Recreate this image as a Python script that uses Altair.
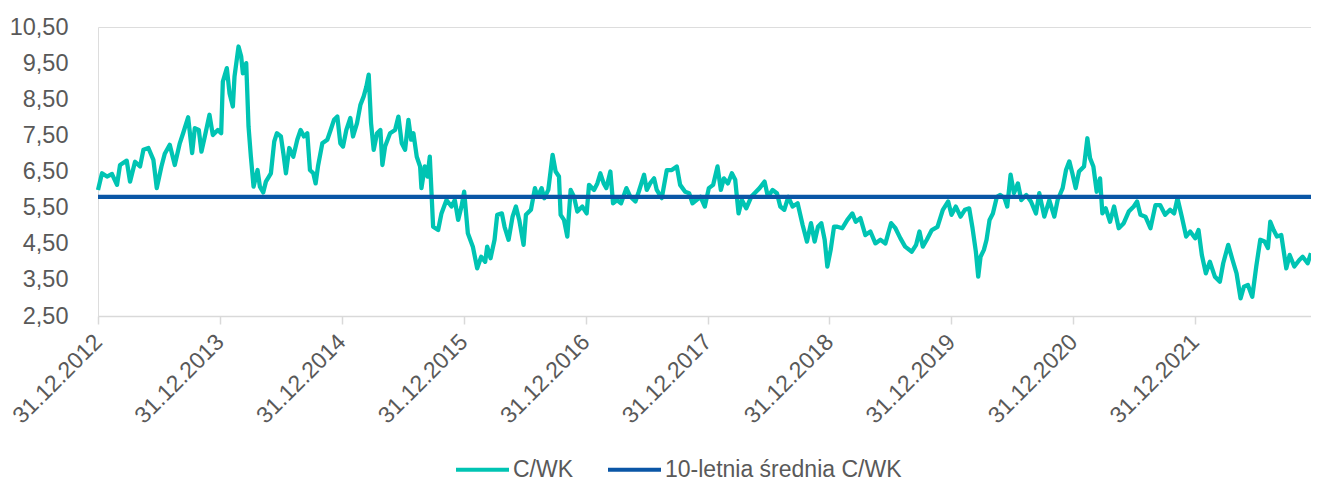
import altair as alt
import pandas as pd

# ---------------- data ----------------
START_DATE = "2012-12-31"          # first observation
AVG_CWK = 5.80                      # 10-year average P/BV
SERIES = ["C/WK", "10-letnia średnia C/WK"]
COLORS = ["#00c4b3", "#0a56a6"]
TICK_YEARS = [2012, 2013, 2014, 2015, 2016, 2017, 2018, 2019, 2020, 2021]
Y_TICKS = [2.5, 3.5, 4.5, 5.5, 6.5, 7.5, 8.5, 9.5, 10.5]

# days since 31.12.2012 and C/WK values, in four stretches
days_a = [0, 12, 27, 42, 57, 66, 86, 96, 111, 126, 136, 151, 166, 176, 190, 200, 215, 230, 245, 255,
          270, 282, 290, 302, 310, 320, 334, 344, 359, 369, 374, 386, 394, 404, 409, 421, 429, 434, 444, 451,
          458, 466, 478, 485, 495, 503, 518, 528, 536, 548, 556, 563, 573, 585, 597, 607, 617, 627, 635, 645,
          652, 659, 672, 687, 697, 707, 717, 726, 734, 744, 756, 764, 776, 786, 796, 804, 811, 818, 826, 836,
          846, 852, 860, 875, 890, 900, 910]
cwk_a = [5.99, 6.45, 6.36, 6.43, 6.13, 6.68, 6.80, 6.22, 6.77, 6.64, 7.10, 7.15, 6.82, 6.04, 6.64, 6.99, 7.24, 6.68, 7.28, 7.56,
         8.00, 7.01, 7.70, 7.65, 7.05, 7.47, 8.07, 7.51, 7.65, 7.56, 8.99, 9.36, 8.67, 8.30, 9.13, 9.96, 9.68, 9.22, 9.50, 7.74,
         6.91, 6.08, 6.54, 6.08, 5.92, 6.22, 6.45, 7.33, 7.56, 7.47, 6.96, 6.45, 7.15, 6.91, 7.38, 7.65, 7.47, 7.56, 6.54, 6.45,
         6.17, 6.64, 7.28, 7.38, 7.65, 7.93, 8.02, 7.28, 7.19, 7.65, 7.98, 7.47, 7.84, 8.34, 8.58, 8.85, 9.18, 7.84, 7.10, 7.56,
         7.65, 6.68, 7.19, 7.56, 7.65, 8.02, 7.28]

days_b = [920, 930, 938, 945, 955, 965, 969, 979, 987, 994, 1004, 1019, 1029, 1044, 1059, 1069, 1079, 1089, 1097, 1108,
          1123, 1136, 1148, 1160, 1166, 1176, 1188, 1196, 1210, 1218, 1230, 1242, 1252, 1262, 1275, 1282, 1297, 1309, 1317, 1329,
          1337, 1349, 1362, 1371, 1381, 1386, 1396, 1406, 1416, 1426, 1436, 1451, 1464, 1471, 1486, 1496, 1505, 1515, 1523, 1535,
          1543, 1555, 1567, 1583, 1595, 1610, 1620, 1636, 1644, 1654, 1666, 1674, 1689, 1704, 1719, 1734, 1744, 1759, 1771, 1781,
          1793, 1805, 1818]
cwk_b = [7.10, 7.93, 7.38, 7.56, 6.91, 6.64, 6.04, 6.64, 6.36, 6.91, 4.97, 4.88, 5.34, 5.71, 5.53, 5.71, 5.16, 5.53, 5.94, 4.79,
         4.42, 3.82, 4.14, 4.00, 4.42, 4.10, 4.61, 5.30, 5.34, 4.97, 4.61, 5.25, 5.53, 5.16, 4.47, 5.30, 5.44, 6.04, 5.80, 6.04,
         5.76, 5.99, 6.96, 6.50, 6.36, 5.30, 5.16, 4.70, 5.99, 5.80, 5.39, 5.53, 5.34, 6.13, 5.99, 6.17, 6.45, 6.17, 6.04, 6.50,
         5.62, 5.71, 5.62, 6.04, 5.80, 5.67, 5.94, 6.41, 5.99, 6.17, 6.31, 5.99, 5.76, 6.54, 6.54, 6.64, 6.13, 5.94, 5.90, 5.62,
         5.71, 5.80, 5.53]

days_c = [1830, 1843, 1856, 1866, 1875, 1887, 1899, 1909, 1919, 1929, 1942, 1957, 1967, 1982, 1997, 2007, 2021, 2034, 2044, 2056,
          2068, 2081, 2096, 2111, 2124, 2136, 2147, 2157, 2167, 2177, 2185, 2195, 2205, 2215, 2230, 2245, 2260, 2270, 2284, 2299,
          2314, 2329, 2344, 2359, 2376, 2389, 2404, 2418, 2438, 2451, 2461, 2471, 2483, 2498, 2515, 2531, 2547, 2557, 2570, 2584,
          2597, 2610, 2620, 2630, 2637, 2644, 2654, 2662, 2671, 2681, 2693, 2703, 2716]
cwk_c = [6.04, 6.13, 6.64, 5.99, 6.31, 6.17, 6.45, 6.27, 5.34, 5.71, 5.48, 5.80, 5.90, 6.04, 6.22, 5.80, 5.99, 5.90, 5.53, 5.44,
         5.80, 5.53, 5.62, 5.02, 4.56, 5.07, 4.56, 4.97, 5.07, 4.61, 3.87, 4.33, 4.97, 4.97, 4.93, 5.16, 5.34, 5.11, 5.21, 4.74,
         4.84, 4.51, 4.61, 4.51, 5.07, 4.93, 4.65, 4.42, 4.28, 4.47, 4.84, 4.42, 4.61, 4.88, 4.97, 5.44, 5.67, 5.30, 5.53, 5.25,
         5.44, 5.48, 4.93, 4.28, 3.59, 4.14, 4.33, 4.61, 5.16, 5.34, 5.80, 5.85, 5.76]

days_d = [2724, 2734, 2744, 2756, 2766, 2781, 2795, 2810, 2820, 2835, 2850, 2865, 2875, 2890, 2900, 2910, 2919, 2929, 2939, 2954,
          2964, 2972, 2982, 2992, 3002, 3009, 3019, 3032, 3044, 3058, 3073, 3088, 3103, 3113, 3123, 3138, 3153, 3168, 3182, 3197,
          3212, 3224, 3234, 3247, 3260, 3272, 3287, 3297, 3307, 3319, 3331, 3346, 3361, 3371, 3386, 3399, 3411, 3423, 3433, 3445,
          3458, 3470, 3482, 3495, 3505, 3512, 3522, 3532, 3545, 3560, 3570, 3584, 3599, 3609, 3624, 3634]
cwk_d = [5.53, 6.41, 5.90, 6.17, 5.71, 5.85, 5.67, 5.34, 5.90, 5.25, 5.71, 5.25, 5.71, 6.04, 6.54, 6.78, 6.45, 6.04, 6.50, 6.64,
         7.42, 6.87, 6.64, 5.94, 6.31, 5.34, 5.48, 5.11, 5.53, 4.93, 5.07, 5.39, 5.53, 5.67, 5.30, 5.25, 4.93, 5.57, 5.57, 5.30,
         5.44, 5.34, 5.76, 5.25, 4.70, 4.84, 4.65, 4.88, 4.19, 3.68, 4.00, 3.59, 3.45, 3.96, 4.47, 4.05, 3.68, 2.99, 3.31, 3.36,
         3.03, 3.87, 4.61, 4.56, 4.38, 5.11, 4.88, 4.70, 4.74, 3.82, 4.19, 3.87, 4.05, 4.14, 3.96, 4.24]

# ---------------- build tables ----------------
days = days_a + days_b + days_c + days_d
cwk = cwk_a + cwk_b + cwk_c + cwk_d
ts = pd.Timestamp(START_DATE) + pd.to_timedelta(days, unit="D")
dates = ts.strftime("%Y-%m-%d").tolist()

df_cwk = pd.DataFrame({"date": dates, "value": cwk, "series": SERIES[0]})
df_avg = pd.DataFrame({"date": [dates[0], dates[-1]], "value": [AVG_CWK, AVG_CWK], "series": SERIES[1]})

first, last = ts[0], ts[-1]
x_domain = [alt.DateTime(year=first.year, month=first.month, date=first.day, utc=True),
            alt.DateTime(year=last.year, month=last.month, date=last.day, utc=True)]
x_ticks = [alt.DateTime(year=y, month=12, date=31, utc=True) for y in TICK_YEARS]

FONT = "Liberation Sans"
TXT = "#595959"
GRID = "#d9d9d9"

x_enc = alt.X(
    "date:T",
    scale=alt.Scale(type="utc", domain=x_domain),
    axis=alt.Axis(
        values=x_ticks,
        labelExpr="utcFormat(datum.value, '%d.%m.%Y')",
        labelAngle=-45, labelAlign="right", labelBaseline="middle",
        labelFontSize=23, labelFont=FONT, labelColor=TXT, labelPadding=14,
        labelOverlap=False, labelBound=False, labelFlush=False,
        domainColor=GRID, domainWidth=1.5, tickColor=GRID, tickWidth=1.5, tickSize=8,
        grid=False, title=None,
    ),
)
y_enc = alt.Y(
    "value:Q",
    scale=alt.Scale(domain=[2.5, 10.5], nice=False, zero=False),
    axis=alt.Axis(
        values=Y_TICKS,
        labelExpr="replace(format(datum.value, '.2f'), '.', ',')",
        labelFontSize=23.5, labelFont=FONT, labelColor=TXT, labelPadding=30,
        ticks=False, domain=False, grid=False, title=None,
    ),
)
color_enc = alt.Color(
    "series:N",
    scale=alt.Scale(domain=SERIES, range=COLORS),
    legend=alt.Legend(
        orient="none", legendX=356, legendY=414, direction="horizontal",
        title=None, symbolType="stroke", symbolSize=2809, symbolStrokeWidth=4,
        labelFontSize=23, labelFont=FONT, labelColor=TXT, labelOffset=2, labelLimit=0,
        columnPadding=26, padding=0,
    ),
)

line_cwk = alt.Chart(df_cwk).mark_line(strokeWidth=4.3, strokeJoin="round").encode(
    x=x_enc, y=y_enc, color=color_enc, order=alt.Order("date:T"))
line_avg = alt.Chart(df_avg).mark_line(strokeWidth=4.3).encode(
    x=x_enc, y=y_enc, color=color_enc)

chart = alt.layer(line_cwk, line_avg).properties(
    width=1213, height=289,
    autosize=alt.AutoSizeParams(type="none"),
    padding={"left": 90, "top": 19, "right": 0, "bottom": 168},
).configure_view(stroke=None).configure(background="white")

chart.save("out.html", embed_options={"renderer": "svg", "actions": False})
